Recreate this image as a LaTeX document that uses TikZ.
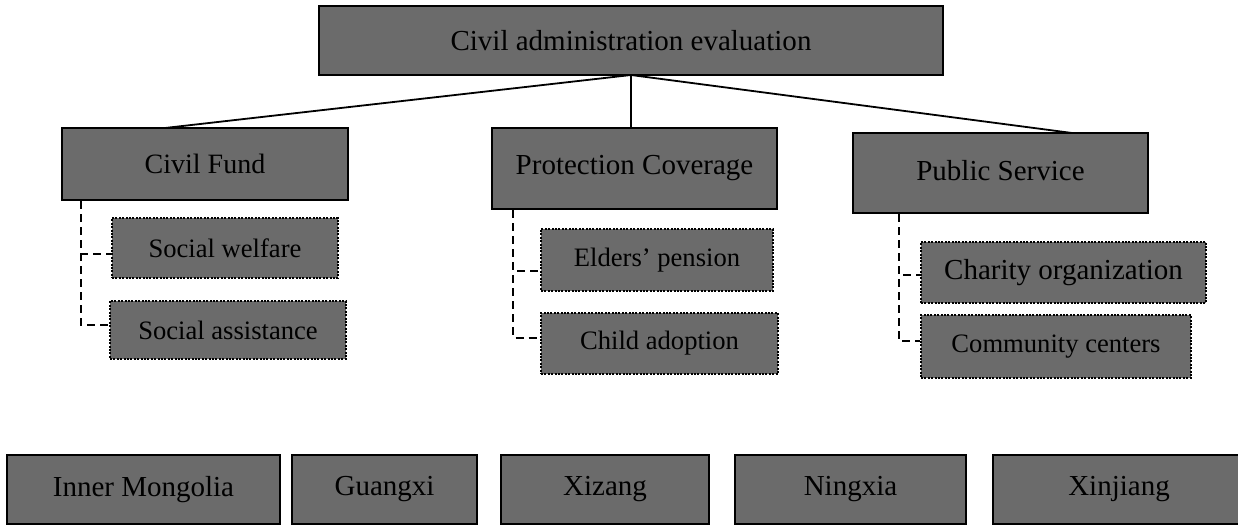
\documentclass[tikz,border=0pt]{standalone}
\usepackage{fontspec}
\setmainfont{Liberation Serif}
\usetikzlibrary{calc}
\definecolor{boxgray}{RGB}{107,107,107}
\tikzset{
  mainbox/.style={draw=black, fill=boxgray, line width=2.3pt, inner sep=0pt, font=\fontsize{29}{33}\selectfont},
  subbox/.style={draw=black, fill=boxgray, line width=2pt, dash pattern=on 2pt off 1.4pt, inner sep=0pt, font=\fontsize{26.6}{30}\selectfont},
  treeline/.style={line width=1.8pt},
  branchline/.style={line width=2pt, dash pattern=on 8pt off 5pt},
}
\begin{document}
\begin{tikzpicture}[x=1pt,y=-1pt]
\useasboundingbox (0,0) rectangle (1238,526);
\clip (0,0) rectangle (1238,526);

% connectors from the top box (drawn first)
\coordinate (topbot) at (631,75);
\coordinate (cfend) at (165,128);
\coordinate (psend) at (1072,133);
\draw[treeline] (topbot) -- (cfend);
\draw[treeline] (topbot) -- (psend);
\draw[treeline] (topbot) -- (631,128);

% top box
\node[mainbox, minimum width=624pt, minimum height=69pt] (top) at (631,40.5) {Civil administration evaluation};

% level 2
\node[mainbox, minimum width=286pt, minimum height=72pt, font=\fontsize{28}{32}\selectfont] (cf) at (205,164) {\raisebox{1pt}{Civil Fund}};
\node[mainbox, minimum width=285pt, minimum height=81pt] (pc) at (634.5,168.5) {\raisebox{5pt}{Protection Coverage}};
\node[mainbox, minimum width=295pt, minimum height=80pt] (ps) at (1000.5,173) {\raisebox{6pt}{Public Service}};

% level 3
\node[subbox, minimum width=226pt, minimum height=60pt] (sw) at (225,248) {Social welfare};
\node[subbox, minimum width=236pt, minimum height=58pt] (sa) at (228,330) {Social assistance};
\node[subbox, minimum width=232pt, minimum height=62pt] (ep) at (657,260) {Elders' pension};
\node[subbox, minimum width=237pt, minimum height=61pt] (ca) at (659.5,343.5) {Child adoption};
\node[subbox, minimum width=285pt, minimum height=61pt, font=\fontsize{29}{33}\selectfont] (co) at (1063.5,272.5) {Charity organization};
\node[subbox, minimum width=270pt, minimum height=63pt] (cc) at (1056,346.5) {Community centers};

% dashed branches
\draw[branchline] ($(cf.south west)+(20,0)$) |- ($(sw.west)+(0,6)$);
\draw[branchline] ($(cf.south west)+(20,0)$) |- ($(sa.west)+(0,-5)$);
\draw[branchline] ($(pc.south west)+(22,0)$) |- ($(ep.west)+(0,11)$);
\draw[branchline] ($(pc.south west)+(22,0)$) |- ($(ca.west)+(0,-6)$);
\draw[branchline] ($(ps.south west)+(47,0)$) |- ($(co.west)+(0,2.5)$);
\draw[branchline] ($(ps.south west)+(47,0)$) |- ($(cc.west)+(0,-5.5)$);

% bottom row
\node[mainbox, minimum width=273pt, minimum height=69pt] (im) at (143.5,489.5) {Inner Mongolia};
\node[mainbox, minimum width=185pt, minimum height=69pt] (gx) at (384.5,489.5) {Guangxi};
\node[mainbox, minimum width=208pt, minimum height=69pt] (xz) at (605,489.5) {Xizang};
\node[mainbox, minimum width=231pt, minimum height=69pt] (nx) at (850.5,489.5) {Ningxia};
\node[mainbox, minimum width=252pt, minimum height=69pt] (xj) at (1119,489.5) {Xinjiang};
\end{tikzpicture}
\end{document}
